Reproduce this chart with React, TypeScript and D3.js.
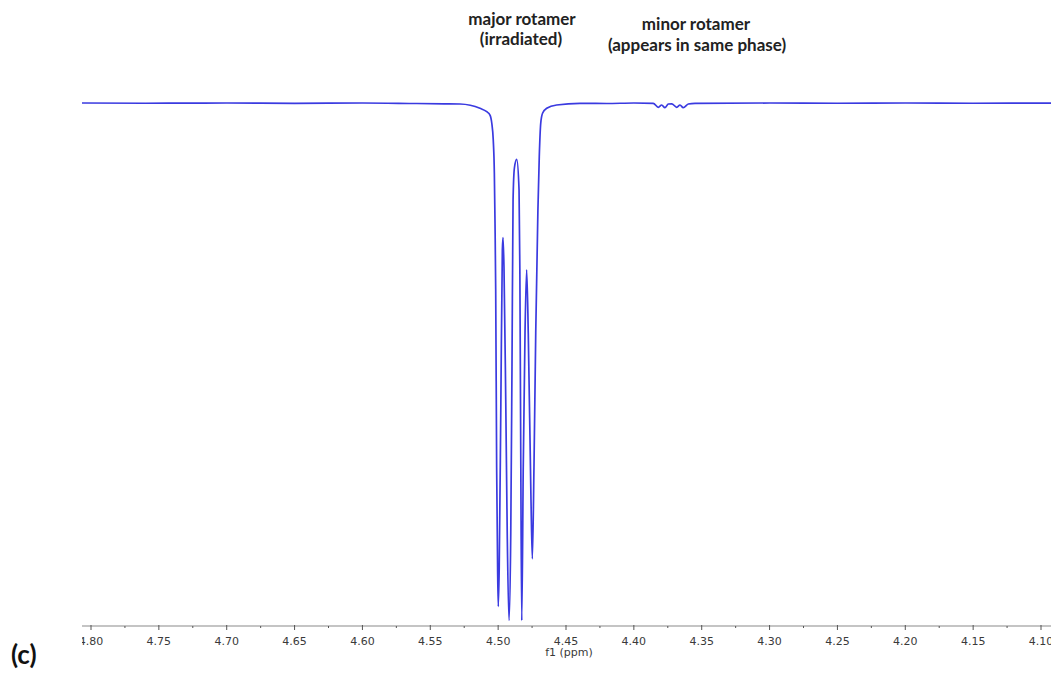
import React from 'react';
import * as d3 from 'd3';

// traced points of the spectrum: [ppm, intensity], baseline = 0, deepest line = -100
const baselineLeft: [number, number][] = [
  [4.81, 0], [4.76, -0.05], [4.70, 0], [4.65, -0.08], [4.60, 0], [4.56, -0.1], [4.54, -0.15],
];

const majorRotamer: [number, number][] = [
  [4.5281, -0.19], [4.5134, -1.02], [4.5084, -1.68], [4.506, -2.32], [4.5047, -3.86],
  [4.5036, -7.14], [4.5028, -13.5], [4.5023, -23.2], [4.5018, -36.0], [4.5011, -70.3],
  [4.5004, -89.6], [4.4999, -97.2], [4.4992, -89.6], [4.4980, -58.0], [4.4969, -28.4],
  [4.4964, -26.0], [4.4957, -31.6], [4.4944, -57.3], [4.4933, -83.0], [4.492, -99.9],
  [4.4907, -83.0], [4.4898, -50.9], [4.4890, -18.7], [4.4880, -12.5], [4.4863, -10.9],
  [4.4846, -16.8], [4.4840, -32.0], [4.4833, -70.0], [4.4826, -99.9], [4.4815, -70.2],
  [4.4802, -44.4], [4.479, -32.2], [4.4778, -44.4], [4.4758, -76.6], [4.4748, -88.0],
  [4.4736, -70.3], [4.4723, -44.4], [4.4707, -20.7], [4.4697, -10.4], [4.4686, -3.86],
  [4.4672, -1.93], [4.4642, -1.02], [4.4569, -0.39], [4.4397, -0.06],
];

const baselineMid: [number, number][] = [
  [4.42, -0.1], [4.40, 0], [4.3857, -0.06],
];

const minorRotamer: [number, number][] = [
  [4.382, -0.83], [4.3795, -0.39], [4.3771, -0.91], [4.3746, -0.19], [4.3721, -0.15],
  [4.3684, -0.83], [4.366, -0.39], [4.3636, -0.91], [4.3599, -0.19], [4.3549, -0.06],
];

const baselineRight: [number, number][] = [
  [4.30, 0], [4.25, -0.05], [4.20, 0], [4.15, -0.05], [4.08, 0],
];

const majorTicks = [4.80, 4.75, 4.70, 4.65, 4.60, 4.55, 4.50, 4.45, 4.40, 4.35, 4.30, 4.25, 4.20, 4.15, 4.10];
const minorTicks = [4.775, 4.725, 4.675, 4.625, 4.575, 4.525, 4.475, 4.425, 4.375, 4.325, 4.275, 4.225, 4.175, 4.125];

const W = 1051;
const H = 673;
const axisY = 626;
const plotLeft = 82;

export default function App() {
  const x = d3.scaleLinear().domain([4.80, 4.10]).range([91, 1041]);
  const y = d3.scaleLinear().domain([-100, 0]).range([621, 103]);

  const points = [...baselineLeft, ...majorRotamer, ...baselineMid, ...minorRotamer, ...baselineRight];

  const line = d3.line<[number, number]>()
    .x(d => x(d[0]))
    .y(d => y(d[1]))
    .curve(d3.curveMonotoneX);

  const labelFont = "Lato, 'Open Sans', sans-serif";

  return (
    <svg width={W} height={H} style={{ position: 'fixed', left: 0, top: 0, background: '#fff' }}>
      <defs>
        <clipPath id="plot">
          <rect x={plotLeft} y={0} width={W - plotLeft} height={H} />
        </clipPath>
      </defs>

      {/* annotations */}
      <g fontFamily={labelFont} fontWeight={700} fontSize={17} fill="#222" textAnchor="middle">
        <text x={522} y={25}>major rotamer</text>
        <text x={521} y={45}>(irradiated)</text>
        <text x={696} y={30}>minor rotamer</text>
        <text x={697} y={51}>(appears in same phase)</text>
      </g>

      <g clipPath="url(#plot)">
        <path d={line(points) || ''} fill="none" stroke="#3a3ae0" strokeWidth={1.7} strokeLinejoin="round" />

        {/* x axis */}
        <line x1={plotLeft} x2={W} y1={axisY} y2={axisY} stroke="#8a8a8a" strokeWidth={1.2} />
        {majorTicks.map(t => (
          <g key={t} transform={`translate(${x(t)},0)`}>
            <line y1={axisY - 1} y2={axisY + 4} stroke="#555" strokeWidth={1} />
            <text y={645} textAnchor="middle" fontFamily="'DejaVu Sans', sans-serif" fontSize={11} fill="#3a3a3a">
              {t.toFixed(2)}
            </text>
          </g>
        ))}
        {minorTicks.map(t => (
          <line key={t} x1={x(t)} x2={x(t)} y1={axisY} y2={axisY + 2} stroke="#555" strokeWidth={1} />
        ))}
        <text x={x(4.45) + 3} y={656} textAnchor="middle" fontFamily="'DejaVu Sans', sans-serif" fontSize={11} fill="#3a3a3a">
          f1 (ppm)
        </text>
      </g>

      <text x={11} y={664} fontFamily={labelFont} fontWeight={700} fontSize={26} fill="#111">(c)</text>
    </svg>
  );
}
